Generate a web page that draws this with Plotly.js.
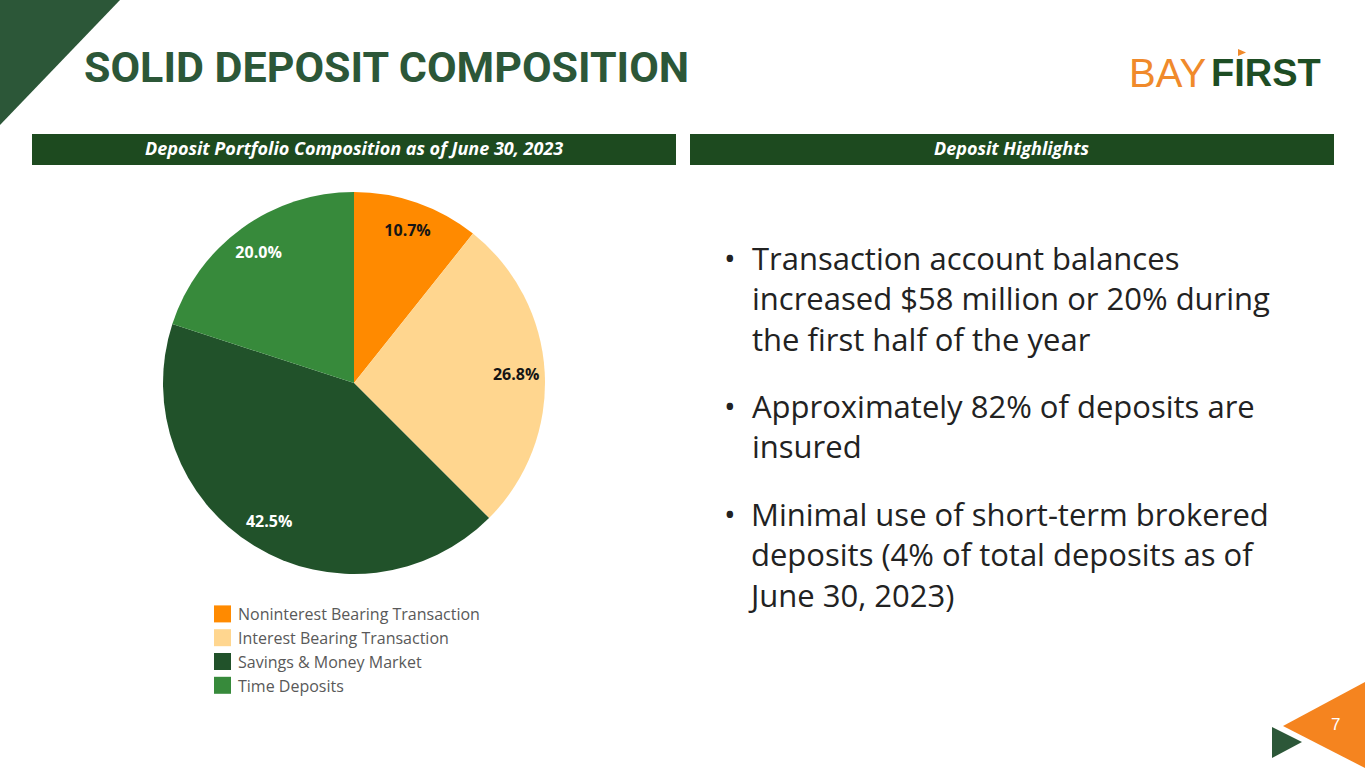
<!DOCTYPE html>
<html>
<head>
<meta charset="utf-8">
<script src="https://cdn.plot.ly/plotly-3.0.1.min.js"></script>
<style>
html,body{margin:0;padding:0;background:#fff;}
#chart{width:1365px;height:768px;}
</style>
</head>
<body>
<div id="chart"></div>
<script>
// ---- data ----
const categories = ["Noninterest Bearing Transaction", "Interest Bearing Transaction", "Savings & Money Market", "Time Deposits"];
const shares = [10.7, 26.8, 42.5, 20.0];
const sliceColors = ["#FF8A00", "#FFD68F", "#21522A", "#378A3B"];
const labelColors = ["#151515", "#151515", "#FFFFFF", "#FFFFFF"];

const pageTitle = "SOLID DEPOSIT COMPOSITION";
const leftHeader = "Deposit Portfolio Composition as of June 30, 2023";
const rightHeader = "Deposit Highlights";
const bullet1 = ["Transaction account balances", "increased $58 million or 20% during", "the first half of the year"];
const bullet2 = ["Approximately 82% of deposits are", "insured"];
const bullet3 = ["Minimal use of short-term brokered", "deposits (4% of total deposits as of", "June 30, 2023)"];
const bullets = [bullet1, bullet2, bullet3];
const pageNumber = "7";

// ---- helpers (pixel -> paper) ----
const W = 1365, H = 768;
const px = x => x / W;
const py = y => 1 - y / H;

const darkGreen = "#2C5738";
const barGreen = "#1D4A1F";
const pieDomain = {x: [px(163), px(545)], y: [py(574), py(192)]};

const pieTrace = {
  type: "pie",
  labels: categories,
  values: shares,
  sort: false,
  direction: "clockwise",
  rotation: 0,
  marker: {colors: sliceColors, line: {width: 0}},
  textinfo: "none",
  domain: pieDomain,
  hoverinfo: "skip"
};

// transparent ring carrying the percentage labels near the outer edge
const labelTrace = {
  type: "pie",
  labels: categories,
  values: shares,
  sort: false,
  direction: "clockwise",
  rotation: 0,
  hole: 0.7,
  showlegend: false,
  marker: {colors: ["rgba(0,0,0,0)", "rgba(0,0,0,0)", "rgba(0,0,0,0)", "rgba(0,0,0,0)"], line: {width: 0}},
  texttemplate: "%{percent:.1%}",
  textposition: "inside",
  insidetextorientation: "horizontal",
  textfont: {family: "Open Sans", size: 16, color: labelColors, weight: 700},
  domain: pieDomain,
  hoverinfo: "skip"
};

const shapes = [
  {type: "path", xref: "paper", yref: "paper",
   path: `M 0 1 L ${px(120)} 1 L 0 ${py(125)} Z`, fillcolor: darkGreen, line: {width: 0}},
  {type: "rect", xref: "paper", yref: "paper", x0: px(32), x1: px(676), y0: py(165), y1: py(134),
   fillcolor: barGreen, line: {width: 0}},
  {type: "rect", xref: "paper", yref: "paper", x0: px(690), x1: px(1334), y0: py(165), y1: py(134),
   fillcolor: barGreen, line: {width: 0}},
  {type: "path", xref: "paper", yref: "paper",
   path: `M ${px(1365)} ${py(682)} L ${px(1283)} ${py(726)} L ${px(1365)} ${py(768)} Z`,
   fillcolor: "#F5841F", line: {width: 0}},
  {type: "path", xref: "paper", yref: "paper",
   path: `M ${px(1272)} ${py(727)} L ${px(1302)} ${py(742)} L ${px(1272)} ${py(758)} Z`,
   fillcolor: darkGreen, line: {width: 0}},
  {type: "path", xref: "paper", yref: "paper",
   path: `M ${px(1238)} ${py(49)} L ${px(1246)} ${py(52.5)} L ${px(1238)} ${py(56)} Z`,
   fillcolor: "#F08A2B", line: {width: 0}}
];

const annotations = [
  {text: "<b>" + pageTitle + "</b>", xref: "paper", yref: "paper", x: px(82), y: py(67),
   xanchor: "left", yanchor: "middle", showarrow: false,
   font: {family: "Roboto", size: 43, color: darkGreen}},
  {text: "BAY", xref: "paper", yref: "paper",
   x: px(1127), y: py(73), xanchor: "left", yanchor: "middle", showarrow: false,
   font: {family: "Liberation Sans", size: 40, color: "#F08A2B"}},
  {text: "<b>FIRST</b>", xref: "paper", yref: "paper",
   x: px(1209), y: py(73), xanchor: "left", yanchor: "middle", showarrow: false,
   font: {family: "Liberation Sans", size: 38, color: "#1E4D24"}},
  {text: "<b><i>" + leftHeader + "</i></b>", xref: "paper", yref: "paper", x: px(354), y: py(148),
   xanchor: "center", yanchor: "middle", showarrow: false,
   font: {family: "Open Sans", size: 18, color: "#FFFFFF"}},
  {text: "<b><i>" + rightHeader + "</i></b>", xref: "paper", yref: "paper", x: px(1012), y: py(148),
   xanchor: "center", yanchor: "middle", showarrow: false,
   font: {family: "Open Sans", size: 18, color: "#FFFFFF"}},
  {text: pageNumber, xref: "paper", yref: "paper", x: px(1335), y: py(724),
   xanchor: "center", yanchor: "middle", showarrow: false,
   font: {family: "Liberation Sans", size: 17, color: "#FFFFFF"}}
];

// bullet text: one multi-line annotation per bullet
const bulletFont = 31;
const renderedPitch = 1.3 * bulletFont;
const firstLineY = 262, linePitch = 37.3, bulletGap = 72;
const textShift = [0, 0, -4];
let lineIndex = 0;
bullets.forEach((lines, b) => {
  const firstY = firstLineY + lineIndex * linePitch + b * (bulletGap - linePitch);
  const centerY = firstY + (lines.length - 1) * linePitch / 2;
  const bulletY = centerY - (lines.length - 1) * renderedPitch / 2;
  annotations.push({text: "•", xref: "paper", yref: "paper", x: px(722), y: py(bulletY - 1),
    xanchor: "left", yanchor: "middle", showarrow: false,
    font: {family: "Open Sans", size: bulletFont, color: "#222222"}});
  annotations.push({text: lines.join("<br>"), xref: "paper", yref: "paper", x: px(750), y: py(centerY - 1),
    xanchor: "left", yanchor: "middle", showarrow: false, align: "left", xshift: textShift[b],
    font: {family: "Open Sans", size: bulletFont, color: "#222222"}});
  lineIndex += lines.length;
});

const layout = {
  width: W, height: H,
  margin: {l: 0, r: 0, t: 0, b: 0},
  paper_bgcolor: "#FFFFFF",
  showlegend: true,
  legend: {x: px(198), y: py(597), xanchor: "left", yanchor: "top",
    font: {family: "Open Sans", size: 16, color: "#595959"},
    bgcolor: "rgba(0,0,0,0)", traceorder: "normal"},
  shapes: shapes,
  annotations: annotations
};

Plotly.newPlot("chart", [pieTrace, labelTrace], layout, {staticPlot: true, displayModeBar: false}).then(() => {
  document.querySelectorAll("#chart .legendpoints path").forEach(p => {
    p.setAttribute("d", "M-8.5,-8.5H8.5V8.5H-8.5Z");
    p.removeAttribute("transform");
    const r = p.getBoundingClientRect();
    const dx = 214 - r.left;
    p.setAttribute("transform", `translate(${dx},0)`);
  });
});
</script>
</body>
</html>
